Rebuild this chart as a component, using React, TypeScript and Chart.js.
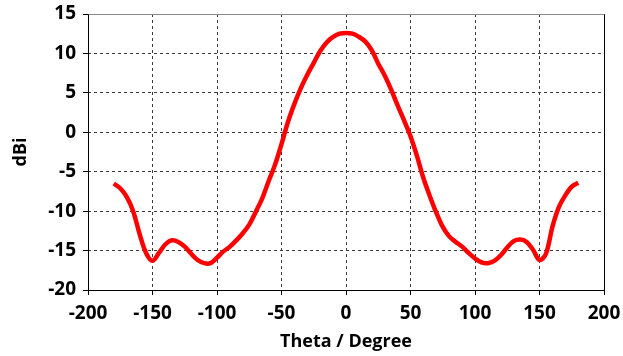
import React, { useEffect, useRef } from "react";
import { Chart, registerables } from "chart.js";

Chart.register(...registerables);

// Elevation angle in degrees
const theta: number[] = [
  -180, -175, -170, -165, -160, -155, -150, -145, -140, -135, -130, -125, -120,
  -115, -110, -105, -100, -95, -90, -85, -80, -75, -70, -65, -60, -55, -50, -45,
  -40, -35, -30, -25, -20, -15, -10, -5, 0, 5, 10, 15, 20, 25, 30, 35, 40, 45,
  50, 55, 60, 65, 70, 75, 80, 85, 90, 95, 100, 105, 110, 115, 120, 125, 130,
  135, 140, 145, 150, 155, 160, 165, 170, 175, 180,
];

// Antenna gain in dBi
const gain: number[] = [
  -6.5, -7.1, -8.2, -10.0, -12.9, -15.3, -16.3, -15.3, -14.2, -13.7, -13.9,
  -14.5, -15.4, -16.2, -16.6, -16.6, -15.9, -15.1, -14.5, -13.7, -12.8, -11.7,
  -10.1, -8.4, -6.2, -4.1, -1.5, 1.3, 3.6, 5.6, 7.3, 8.8, 10.3, 11.4, 12.1,
  12.5, 12.6, 12.5, 12.1, 11.5, 10.4, 8.7, 7.2, 5.4, 3.4, 1.5, -0.5, -3.0,
  -5.8, -8.1, -10.2, -12.0, -13.2, -13.9, -14.5, -15.3, -16.0, -16.5, -16.6,
  -16.3, -15.6, -14.6, -13.8, -13.6, -13.9, -14.9, -16.2, -15.4, -12.0, -9.5,
  -8.0, -6.9, -6.4,
];

const xTitle = "Theta / Degree";
const yTitle = "dBi";
const xMin = -200;
const xMax = 200;
const xStep = 50;
const yMin = -20;
const yMax = 15;
const yStep = 5;

const FONT = "'Open Sans', 'Liberation Sans', sans-serif";

// Plot frame: solid black axes on left/bottom/right, lighter top edge
const framePlugin = {
  id: "plotFrame",
  afterDatasetsDraw(chart: Chart) {
    const { ctx, chartArea } = chart;
    const l = Math.round(chartArea.left) + 0.5;
    const r = Math.round(chartArea.right) + 0.5;
    const t = Math.round(chartArea.top) + 0.5;
    const b = Math.round(chartArea.bottom) + 0.5;
    ctx.save();
    ctx.lineWidth = 1;
    ctx.setLineDash([]);
    ctx.strokeStyle = "#8a8a8a";
    ctx.beginPath();
    ctx.moveTo(l, t);
    ctx.lineTo(r, t);
    ctx.stroke();
    ctx.strokeStyle = "#000000";
    ctx.beginPath();
    ctx.moveTo(r, t);
    ctx.lineTo(r, b);
    ctx.moveTo(l, t);
    ctx.lineTo(l, b);
    ctx.lineTo(r, b);
    ctx.stroke();
    ctx.restore();
  },
};

export default function App() {
  const canvasRef = useRef<HTMLCanvasElement | null>(null);

  useEffect(() => {
    const canvas = canvasRef.current;
    if (!canvas) return;

    const points = theta.map((t, i) => ({ x: t, y: gain[i] }));

    const gridCommon = {
      color: "#3a3a3a",
      lineWidth: 1,
      borderDash: [3, 3],
      tickLength: 5,
      tickColor: "#000000",
      tickBorderDash: [],
      drawTicks: true,
    };

    const chart = new Chart(canvas, {
      type: "line",
      data: {
        datasets: [
          {
            data: points,
            borderColor: "#ff0000",
            backgroundColor: "#ff0000",
            borderWidth: 4.5,
            pointRadius: 0,
            tension: 0.35,
            fill: false,
          },
        ],
      },
      plugins: [framePlugin],
      options: {
        animation: false,
        responsive: false,
        maintainAspectRatio: false,
        layout: { padding: { left: 0, top: 14, right: 19, bottom: 0 } },
        plugins: {
          legend: { display: false },
          tooltip: { enabled: false },
        },
        scales: {
          x: {
            type: "linear",
            min: xMin,
            max: xMax,
            ticks: {
              stepSize: xStep,
              color: "#000000",
              padding: 7,
              maxRotation: 0,
              font: { family: FONT, size: 19, weight: "bold" },
            },
            grid: gridCommon,
            border: { display: false, dash: [3, 3] },
            title: {
              display: true,
              text: xTitle,
              color: "#000000",
              padding: { top: 0, bottom: 3 },
              font: { family: FONT, size: 18, weight: "bold" },
            },
            afterFit(scale: any) {
              scale.height = 66;
              scale.paddingLeft = 0;
              scale.paddingRight = 0;
            },
          },
          y: {
            type: "linear",
            min: yMin,
            max: yMax,
            ticks: {
              stepSize: yStep,
              color: "#000000",
              padding: 7,
              font: { family: FONT, size: 19, weight: "bold" },
            },
            grid: gridCommon,
            border: { display: false, dash: [3, 3] },
            title: {
              display: true,
              text: yTitle,
              color: "#000000",
              padding: { top: 10, bottom: 0 },
              font: { family: FONT, size: 18, weight: "bold" },
            },
            afterFit(scale: any) {
              scale.width = 88;
              scale.paddingTop = 0;
              scale.paddingBottom = 0;
            },
          },
        },
      },
    });

    return () => chart.destroy();
  }, []);

  return (
    <div
      style={{
        position: "fixed",
        left: 0,
        top: 0,
        width: 623,
        height: 356,
        background: "#ffffff",
      }}
    >
      <canvas ref={canvasRef} width={623} height={356} />
    </div>
  );
}
